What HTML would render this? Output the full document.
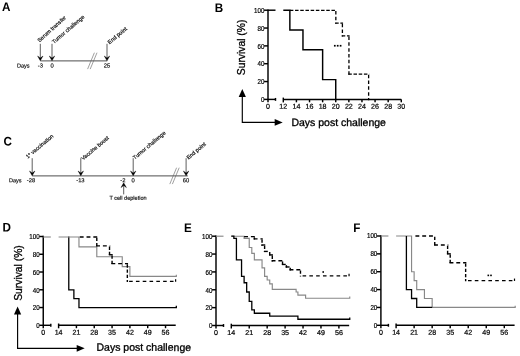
<!DOCTYPE html>
<html><head><meta charset="utf-8"><title>Figure</title>
<style>
html,body{margin:0;padding:0;background:#fff;}
body{width:520px;height:356px;overflow:hidden;font-family:"Liberation Sans",sans-serif;}
svg{display:block;font-family:"Liberation Sans",sans-serif;filter:grayscale(1);}
</style></head><body>
<svg width="520" height="356" viewBox="0 0 520 356">
<rect width="520" height="356" fill="#fff"/>
<text transform="translate(2 10.95) rotate(0.06) scale(1 1.06)" font-size="11.7" font-weight="bold">A</text>
<line x1="40.3" y1="60.9" x2="107.2" y2="60.9" stroke="#444" stroke-width="0.95"/>
<line x1="40.3" y1="43.8" x2="40.3" y2="58.8" stroke="#555" stroke-width="0.95"/>
<path d="M37.6 56 L40.3 60.8 L43 56 L40.3 58.1 Z" fill="#000" stroke="#000" stroke-width="0.4" stroke-linejoin="miter"/>
<text x="39.4" y="42.6" font-size="5.5" text-anchor="start" font-weight="normal" fill="#111" transform="rotate(-42 39.4 42.6)" stroke="#111" stroke-width="0.2">Serum transfer</text>
<line x1="52" y1="43.8" x2="52" y2="58.8" stroke="#555" stroke-width="0.95"/>
<path d="M49.3 56 L52 60.8 L54.7 56 L52 58.1 Z" fill="#000" stroke="#000" stroke-width="0.4" stroke-linejoin="miter"/>
<text x="53.9" y="44" font-size="5.5" text-anchor="start" font-weight="normal" fill="#111" transform="rotate(-40.5 53.9 44)" stroke="#111" stroke-width="0.2">Tumor challenge</text>
<line x1="107" y1="43.8" x2="107" y2="58.8" stroke="#555" stroke-width="0.95"/>
<path d="M104.3 56 L107 60.8 L109.7 56 L107 58.1 Z" fill="#000" stroke="#000" stroke-width="0.4" stroke-linejoin="miter"/>
<text x="109.6" y="44.4" font-size="5.5" text-anchor="start" font-weight="normal" fill="#111" transform="rotate(-40 109.6 44.4)" stroke="#111" stroke-width="0.2">End point</text>
<line x1="87.6" y1="69.1" x2="94.4" y2="52.7" stroke="#606060" stroke-width="0.6"/>
<line x1="90.2" y1="69.1" x2="97" y2="52.7" stroke="#606060" stroke-width="0.6"/>
<text x="17" y="67.4" font-size="5.55" text-anchor="start" font-weight="normal" fill="#111" transform="rotate(0.06 17 67.4)" stroke="#111" stroke-width="0.17">Days</text>
<text x="40.3" y="67.4" font-size="5.8" text-anchor="middle" font-weight="normal" fill="#111" transform="rotate(0.06 40.3 67.4)" stroke="#111" stroke-width="0.17">-3</text>
<text x="52" y="67.4" font-size="5.8" text-anchor="middle" font-weight="normal" fill="#111" transform="rotate(0.06 52 67.4)" stroke="#111" stroke-width="0.17">0</text>
<text x="107" y="67.4" font-size="5.8" text-anchor="middle" font-weight="normal" fill="#111" transform="rotate(0.06 107 67.4)" stroke="#111" stroke-width="0.17">25</text>
<text transform="translate(3.5 145.6) rotate(0.06) scale(1 1.06)" font-size="11.7" font-weight="bold">C</text>
<line x1="32.2" y1="175.9" x2="187.8" y2="175.9" stroke="#444" stroke-width="0.95"/>
<line x1="32.2" y1="158.2" x2="32.2" y2="173.8" stroke="#555" stroke-width="0.95"/>
<path d="M29.5 171 L32.2 175.8 L34.9 171 L32.2 173.1 Z" fill="#000" stroke="#000" stroke-width="0.4" stroke-linejoin="miter"/>
<text x="27.8" y="158.7" font-size="5.5" text-anchor="start" font-weight="normal" fill="#111" transform="rotate(-40 27.8 158.7)" stroke="#111" stroke-width="0.2">1<tspan font-size="3.4" dy="-2">o</tspan><tspan dy="2"> vaccination</tspan></text>
<line x1="80.8" y1="158.2" x2="80.8" y2="173.8" stroke="#555" stroke-width="0.95"/>
<path d="M78.1 171 L80.8 175.8 L83.5 171 L80.8 173.1 Z" fill="#000" stroke="#000" stroke-width="0.4" stroke-linejoin="miter"/>
<text x="83.1" y="160.5" font-size="5.5" text-anchor="start" font-weight="normal" fill="#111" transform="rotate(-40 83.1 160.5)" stroke="#111" stroke-width="0.2">Vaccine boost</text>
<line x1="133.2" y1="158.2" x2="133.2" y2="173.8" stroke="#555" stroke-width="0.95"/>
<path d="M130.5 171 L133.2 175.8 L135.9 171 L133.2 173.1 Z" fill="#000" stroke="#000" stroke-width="0.4" stroke-linejoin="miter"/>
<text x="134.8" y="159.7" font-size="5.5" text-anchor="start" font-weight="normal" fill="#111" transform="rotate(-40 134.8 159.7)" stroke="#111" stroke-width="0.2">Tumor challenge</text>
<line x1="186.1" y1="158.2" x2="186.1" y2="173.8" stroke="#555" stroke-width="0.95"/>
<path d="M183.4 171 L186.1 175.8 L188.8 171 L186.1 173.1 Z" fill="#000" stroke="#000" stroke-width="0.4" stroke-linejoin="miter"/>
<text x="188.4" y="159.8" font-size="5.5" text-anchor="start" font-weight="normal" fill="#111" transform="rotate(-40 188.4 159.8)" stroke="#111" stroke-width="0.2">End point</text>
<line x1="169.8" y1="184.1" x2="176.6" y2="167.7" stroke="#606060" stroke-width="0.6"/>
<line x1="172.4" y1="184.1" x2="179.2" y2="167.7" stroke="#606060" stroke-width="0.6"/>
<line x1="123.7" y1="194.4" x2="123.7" y2="184.8" stroke="#555" stroke-width="0.95"/>
<path d="M121 187.6 L123.7 182.8 L126.4 187.6 L123.7 185.5 Z" fill="#000" stroke="#000" stroke-width="0.4" stroke-linejoin="miter"/>
<text x="8.9" y="182.3" font-size="5.55" text-anchor="start" font-weight="normal" fill="#111" transform="rotate(0.06 8.9 182.3)" stroke="#111" stroke-width="0.17">Days</text>
<text x="31" y="182.3" font-size="5.8" text-anchor="middle" font-weight="normal" fill="#111" transform="rotate(0.06 31 182.3)" stroke="#111" stroke-width="0.17">-28</text>
<text x="80.4" y="182.3" font-size="5.8" text-anchor="middle" font-weight="normal" fill="#111" transform="rotate(0.06 80.4 182.3)" stroke="#111" stroke-width="0.17">-13</text>
<text x="122.8" y="182.3" font-size="5.8" text-anchor="middle" font-weight="normal" fill="#111" transform="rotate(0.06 122.8 182.3)" stroke="#111" stroke-width="0.17">-2</text>
<text x="133.2" y="182.3" font-size="5.8" text-anchor="middle" font-weight="normal" fill="#111" transform="rotate(0.06 133.2 182.3)" stroke="#111" stroke-width="0.17">0</text>
<text x="186" y="182.3" font-size="5.8" text-anchor="middle" font-weight="normal" fill="#111" transform="rotate(0.06 186 182.3)" stroke="#111" stroke-width="0.17">60</text>
<text x="128" y="199.7" font-size="5.55" text-anchor="middle" font-weight="normal" fill="#111" transform="rotate(0.06 128 199.7)" stroke="#111" stroke-width="0.17">T cell depletion</text>
<text transform="translate(214.8 12) rotate(0.06) scale(1 1.06)" font-size="11.7" font-weight="bold">B</text>
<line x1="268" y1="9.47" x2="268" y2="102.3" stroke="#000" stroke-width="1.45"/>
<line x1="264.1" y1="99.4" x2="268" y2="99.4" stroke="#000" stroke-width="1.45"/>
<text transform="translate(264.4 102.15) scale(0.87 1)" font-size="7.1" text-anchor="end" stroke="#000" stroke-width="0.2">0</text>
<line x1="264.1" y1="81.56" x2="268" y2="81.56" stroke="#000" stroke-width="1.45"/>
<text transform="translate(264.4 84.31) scale(0.87 1)" font-size="7.1" text-anchor="end" stroke="#000" stroke-width="0.2">20</text>
<line x1="264.1" y1="63.72" x2="268" y2="63.72" stroke="#000" stroke-width="1.45"/>
<text transform="translate(264.4 66.47) scale(0.87 1)" font-size="7.1" text-anchor="end" stroke="#000" stroke-width="0.2">40</text>
<line x1="264.1" y1="45.88" x2="268" y2="45.88" stroke="#000" stroke-width="1.45"/>
<text transform="translate(264.4 48.63) scale(0.87 1)" font-size="7.1" text-anchor="end" stroke="#000" stroke-width="0.2">60</text>
<line x1="264.1" y1="28.04" x2="268" y2="28.04" stroke="#000" stroke-width="1.45"/>
<text transform="translate(264.4 30.79) scale(0.87 1)" font-size="7.1" text-anchor="end" stroke="#000" stroke-width="0.2">80</text>
<line x1="264.1" y1="10.2" x2="268" y2="10.2" stroke="#000" stroke-width="1.45"/>
<text transform="translate(264.4 12.95) scale(0.87 1)" font-size="7.1" text-anchor="end" stroke="#000" stroke-width="0.2">100</text>
<line x1="268" y1="99.4" x2="275.5" y2="99.4" stroke="#000" stroke-width="1.45"/>
<line x1="275.5" y1="97.95" x2="275.5" y2="100.85" stroke="#000" stroke-width="1.45"/>
<line x1="283.3" y1="99.4" x2="401.29" y2="99.4" stroke="#000" stroke-width="1.45"/>
<line x1="283.3" y1="97.6" x2="283.3" y2="102.4" stroke="#000" stroke-width="1.45"/>
<text x="268" y="108.8" font-size="7.1" text-anchor="middle" font-weight="normal" fill="#000" transform="rotate(0.06 268 108.8)" stroke="#000" stroke-width="0.21">0</text>
<text x="283.3" y="108.8" font-size="7.1" text-anchor="middle" font-weight="normal" fill="#000" transform="rotate(0.06 283.3 108.8)" stroke="#000" stroke-width="0.21">12</text>
<line x1="296.41" y1="99.4" x2="296.41" y2="102.3" stroke="#000" stroke-width="1.45"/>
<text x="296.41" y="108.8" font-size="7.1" text-anchor="middle" font-weight="normal" fill="#000" transform="rotate(0.06 296.41 108.8)" stroke="#000" stroke-width="0.21">14</text>
<line x1="309.52" y1="99.4" x2="309.52" y2="102.3" stroke="#000" stroke-width="1.45"/>
<text x="309.52" y="108.8" font-size="7.1" text-anchor="middle" font-weight="normal" fill="#000" transform="rotate(0.06 309.52 108.8)" stroke="#000" stroke-width="0.21">16</text>
<line x1="322.63" y1="99.4" x2="322.63" y2="102.3" stroke="#000" stroke-width="1.45"/>
<text x="322.63" y="108.8" font-size="7.1" text-anchor="middle" font-weight="normal" fill="#000" transform="rotate(0.06 322.63 108.8)" stroke="#000" stroke-width="0.21">18</text>
<line x1="335.74" y1="99.4" x2="335.74" y2="102.3" stroke="#000" stroke-width="1.45"/>
<text x="335.74" y="108.8" font-size="7.1" text-anchor="middle" font-weight="normal" fill="#000" transform="rotate(0.06 335.74 108.8)" stroke="#000" stroke-width="0.21">20</text>
<line x1="348.85" y1="99.4" x2="348.85" y2="102.3" stroke="#000" stroke-width="1.45"/>
<text x="348.85" y="108.8" font-size="7.1" text-anchor="middle" font-weight="normal" fill="#000" transform="rotate(0.06 348.85 108.8)" stroke="#000" stroke-width="0.21">22</text>
<line x1="361.96" y1="99.4" x2="361.96" y2="102.3" stroke="#000" stroke-width="1.45"/>
<text x="361.96" y="108.8" font-size="7.1" text-anchor="middle" font-weight="normal" fill="#000" transform="rotate(0.06 361.96 108.8)" stroke="#000" stroke-width="0.21">24</text>
<line x1="375.07" y1="99.4" x2="375.07" y2="102.3" stroke="#000" stroke-width="1.45"/>
<text x="375.07" y="108.8" font-size="7.1" text-anchor="middle" font-weight="normal" fill="#000" transform="rotate(0.06 375.07 108.8)" stroke="#000" stroke-width="0.21">26</text>
<line x1="388.18" y1="99.4" x2="388.18" y2="102.3" stroke="#000" stroke-width="1.45"/>
<text x="388.18" y="108.8" font-size="7.1" text-anchor="middle" font-weight="normal" fill="#000" transform="rotate(0.06 388.18 108.8)" stroke="#000" stroke-width="0.21">28</text>
<line x1="401.29" y1="99.4" x2="401.29" y2="102.3" stroke="#000" stroke-width="1.45"/>
<text x="401.29" y="108.8" font-size="7.1" text-anchor="middle" font-weight="normal" fill="#000" transform="rotate(0.06 401.29 108.8)" stroke="#000" stroke-width="0.21">30</text>
<line x1="289.86" y1="10.4" x2="336.49" y2="10.4" stroke="#000" stroke-width="1.3" stroke-dasharray="3.5 1.7"/>
<line x1="335.84" y1="11.05" x2="335.84" y2="23.81" stroke="#000" stroke-width="1.3" stroke-dasharray="3.5 2.3"/>
<line x1="335.19" y1="23.16" x2="343.05" y2="23.16" stroke="#000" stroke-width="1.3" stroke-dasharray="3.5 1.7"/>
<line x1="342.4" y1="23.81" x2="342.4" y2="36.56" stroke="#000" stroke-width="1.3" stroke-dasharray="3.5 2.3"/>
<line x1="341.75" y1="35.91" x2="349.6" y2="35.91" stroke="#000" stroke-width="1.3" stroke-dasharray="3.5 1.7"/>
<line x1="348.95" y1="36.56" x2="348.95" y2="74.74" stroke="#000" stroke-width="1.3" stroke-dasharray="3.5 2.3"/>
<line x1="348.3" y1="74.09" x2="369.26" y2="74.09" stroke="#000" stroke-width="1.3" stroke-dasharray="3.5 1.7"/>
<line x1="368.62" y1="74.74" x2="368.62" y2="100.25" stroke="#000" stroke-width="1.3" stroke-dasharray="3.5 2.3"/>
<line x1="268" y1="10.2" x2="275.5" y2="10.2" stroke="#000" stroke-width="1.45"/>
<path d="M283.3 10.2 H289.86 V30 H302.97 V49.8 H322.63 V79.6 H335.74 V99.4" fill="none" stroke="#000" stroke-width="1.45" stroke-linejoin="miter" stroke-linecap="butt"/>
<text x="245" y="47.4" font-size="10.3" text-anchor="middle" font-weight="normal" fill="#000" transform="rotate(-90 245 47.4)" stroke="#000" stroke-width="0.31">Survival (%)</text>
<path d="M242.3 94.1 V122.4 H277.7" fill="none" stroke="#000" stroke-width="1.15"/>
<path d="M242.3 89.1 L238.7 97 L245.9 97 Z" fill="#000"/>
<path d="M282.7 122.4 L274.7 119.05 L274.7 125.75 Z" fill="#000"/>
<text x="291.4" y="126" font-size="10.5" text-anchor="start" font-weight="normal" fill="#000" transform="rotate(0.06 291.4 126)" stroke="#000" stroke-width="0.32">Days post challenge</text>
<rect x="333.95" y="44.9" width="1.7" height="1.7" fill="#000"/>
<rect x="336.85" y="44.9" width="1.7" height="1.7" fill="#000"/>
<rect x="339.75" y="44.9" width="1.7" height="1.7" fill="#000"/>
<text transform="translate(2.5 231.6) rotate(0.06) scale(1 1.06)" font-size="11.7" font-weight="bold">D</text>
<line x1="43.25" y1="235.78" x2="43.25" y2="328.2" stroke="#000" stroke-width="1.45"/>
<line x1="39.35" y1="325.3" x2="43.25" y2="325.3" stroke="#000" stroke-width="1.45"/>
<text transform="translate(39.65 328.05) scale(0.87 1)" font-size="7.1" text-anchor="end" stroke="#000" stroke-width="0.2">0</text>
<line x1="39.35" y1="307.54" x2="43.25" y2="307.54" stroke="#000" stroke-width="1.45"/>
<text transform="translate(39.65 310.29) scale(0.87 1)" font-size="7.1" text-anchor="end" stroke="#000" stroke-width="0.2">20</text>
<line x1="39.35" y1="289.78" x2="43.25" y2="289.78" stroke="#000" stroke-width="1.45"/>
<text transform="translate(39.65 292.53) scale(0.87 1)" font-size="7.1" text-anchor="end" stroke="#000" stroke-width="0.2">40</text>
<line x1="39.35" y1="272.02" x2="43.25" y2="272.02" stroke="#000" stroke-width="1.45"/>
<text transform="translate(39.65 274.77) scale(0.87 1)" font-size="7.1" text-anchor="end" stroke="#000" stroke-width="0.2">60</text>
<line x1="39.35" y1="254.26" x2="43.25" y2="254.26" stroke="#000" stroke-width="1.45"/>
<text transform="translate(39.65 257.01) scale(0.87 1)" font-size="7.1" text-anchor="end" stroke="#000" stroke-width="0.2">80</text>
<line x1="39.35" y1="236.5" x2="43.25" y2="236.5" stroke="#000" stroke-width="1.45"/>
<text transform="translate(39.65 239.25) scale(0.87 1)" font-size="7.1" text-anchor="end" stroke="#000" stroke-width="0.2">100</text>
<line x1="43.25" y1="325.3" x2="50.8" y2="325.3" stroke="#000" stroke-width="1.45"/>
<line x1="50.8" y1="323.85" x2="50.8" y2="326.75" stroke="#000" stroke-width="1.45"/>
<line x1="58.6" y1="325.3" x2="175.72" y2="325.3" stroke="#000" stroke-width="1.45"/>
<line x1="58.6" y1="323.5" x2="58.6" y2="328.3" stroke="#000" stroke-width="1.45"/>
<text x="43.25" y="334.7" font-size="7.1" text-anchor="middle" font-weight="normal" fill="#000" transform="rotate(0.06 43.25 334.7)" stroke="#000" stroke-width="0.21">0</text>
<text x="58.6" y="334.7" font-size="7.1" text-anchor="middle" font-weight="normal" fill="#000" transform="rotate(0.06 58.6 334.7)" stroke="#000" stroke-width="0.21">14</text>
<line x1="76.42" y1="325.3" x2="76.42" y2="328.2" stroke="#000" stroke-width="1.45"/>
<text x="76.42" y="334.7" font-size="7.1" text-anchor="middle" font-weight="normal" fill="#000" transform="rotate(0.06 76.42 334.7)" stroke="#000" stroke-width="0.21">21</text>
<line x1="94.24" y1="325.3" x2="94.24" y2="328.2" stroke="#000" stroke-width="1.45"/>
<text x="94.24" y="334.7" font-size="7.1" text-anchor="middle" font-weight="normal" fill="#000" transform="rotate(0.06 94.24 334.7)" stroke="#000" stroke-width="0.21">28</text>
<line x1="112.07" y1="325.3" x2="112.07" y2="328.2" stroke="#000" stroke-width="1.45"/>
<text x="112.07" y="334.7" font-size="7.1" text-anchor="middle" font-weight="normal" fill="#000" transform="rotate(0.06 112.07 334.7)" stroke="#000" stroke-width="0.21">35</text>
<line x1="129.89" y1="325.3" x2="129.89" y2="328.2" stroke="#000" stroke-width="1.45"/>
<text x="129.89" y="334.7" font-size="7.1" text-anchor="middle" font-weight="normal" fill="#000" transform="rotate(0.06 129.89 334.7)" stroke="#000" stroke-width="0.21">42</text>
<line x1="147.71" y1="325.3" x2="147.71" y2="328.2" stroke="#000" stroke-width="1.45"/>
<text x="147.71" y="334.7" font-size="7.1" text-anchor="middle" font-weight="normal" fill="#000" transform="rotate(0.06 147.71 334.7)" stroke="#000" stroke-width="0.21">49</text>
<line x1="165.53" y1="325.3" x2="165.53" y2="328.2" stroke="#000" stroke-width="1.45"/>
<text x="165.53" y="334.7" font-size="7.1" text-anchor="middle" font-weight="normal" fill="#000" transform="rotate(0.06 165.53 334.7)" stroke="#000" stroke-width="0.21">56</text>
<path d="M68.78 236.5 H68.78 V289.78 H73.88 V298.66 H78.97 V307.54 H176.32 V305.74" fill="none" stroke="#000" stroke-width="1.3" stroke-linejoin="miter" stroke-linecap="butt"/>
<line x1="43.25" y1="237" x2="50.8" y2="237" stroke="#888" stroke-width="1.15"/>
<path d="M58.6 237 H78.97 V246.86 H96.79 V256.71 H122.25 V266.57 H129.89 V276.43 H176.32 V274.63" fill="none" stroke="#888" stroke-width="1.15" stroke-linejoin="miter" stroke-linecap="butt"/>
<line x1="79.73" y1="237" x2="97.49" y2="237" stroke="#000" stroke-width="1.4" stroke-dasharray="3.9 2.9"/>
<line x1="96.79" y1="237.7" x2="96.79" y2="246.58" stroke="#000" stroke-width="1.4" stroke-dasharray="3.3 1.9"/>
<line x1="96.09" y1="245.88" x2="110.22" y2="245.88" stroke="#000" stroke-width="1.4" stroke-dasharray="3.9 2.9"/>
<line x1="109.52" y1="246.58" x2="109.52" y2="255.46" stroke="#000" stroke-width="1.4" stroke-dasharray="3.3 1.9"/>
<line x1="108.82" y1="254.76" x2="112.77" y2="254.76" stroke="#000" stroke-width="1.4" stroke-dasharray="3.9 2.9"/>
<line x1="112.07" y1="255.46" x2="112.07" y2="264.34" stroke="#000" stroke-width="1.4" stroke-dasharray="3.3 1.9"/>
<line x1="111.37" y1="263.64" x2="128.04" y2="263.64" stroke="#000" stroke-width="1.4" stroke-dasharray="3.9 2.9"/>
<line x1="127.34" y1="264.34" x2="127.34" y2="282.1" stroke="#000" stroke-width="1.4" stroke-dasharray="3.3 1.9"/>
<line x1="173.52" y1="281.4" x2="126.64" y2="281.4" stroke="#000" stroke-width="1.4" stroke-dasharray="3.6 3.2"/>
<line x1="175.62" y1="281.7" x2="175.62" y2="279.3" stroke="#000" stroke-width="1.2"/>
<text x="21.5" y="273" font-size="10.3" text-anchor="middle" font-weight="normal" fill="#000" transform="rotate(-90 21.5 273)" stroke="#000" stroke-width="0.31">Survival (%)</text>
<path d="M17.6 311.5 V348.3 H79.7" fill="none" stroke="#000" stroke-width="1.15"/>
<path d="M17.6 306.5 L14 314.4 L21.2 314.4 Z" fill="#000"/>
<path d="M84.7 348.3 L76.7 344.95 L76.7 351.65 Z" fill="#000"/>
<text x="96.5" y="350.8" font-size="10.5" text-anchor="start" font-weight="normal" fill="#000" transform="rotate(0.06 96.5 350.8)" stroke="#000" stroke-width="0.32">Days post challenge</text>
<text transform="translate(184.1 231.9) rotate(0.06) scale(1 1.06)" font-size="11.7" font-weight="bold">E</text>
<line x1="216" y1="235.47" x2="216" y2="328.4" stroke="#000" stroke-width="1.45"/>
<line x1="212.1" y1="325.5" x2="216" y2="325.5" stroke="#000" stroke-width="1.45"/>
<text transform="translate(212.4 328.25) scale(0.87 1)" font-size="7.1" text-anchor="end" stroke="#000" stroke-width="0.2">0</text>
<line x1="212.1" y1="307.64" x2="216" y2="307.64" stroke="#000" stroke-width="1.45"/>
<text transform="translate(212.4 310.39) scale(0.87 1)" font-size="7.1" text-anchor="end" stroke="#000" stroke-width="0.2">20</text>
<line x1="212.1" y1="289.78" x2="216" y2="289.78" stroke="#000" stroke-width="1.45"/>
<text transform="translate(212.4 292.53) scale(0.87 1)" font-size="7.1" text-anchor="end" stroke="#000" stroke-width="0.2">40</text>
<line x1="212.1" y1="271.92" x2="216" y2="271.92" stroke="#000" stroke-width="1.45"/>
<text transform="translate(212.4 274.67) scale(0.87 1)" font-size="7.1" text-anchor="end" stroke="#000" stroke-width="0.2">60</text>
<line x1="212.1" y1="254.06" x2="216" y2="254.06" stroke="#000" stroke-width="1.45"/>
<text transform="translate(212.4 256.81) scale(0.87 1)" font-size="7.1" text-anchor="end" stroke="#000" stroke-width="0.2">80</text>
<line x1="212.1" y1="236.2" x2="216" y2="236.2" stroke="#000" stroke-width="1.45"/>
<text transform="translate(212.4 238.95) scale(0.87 1)" font-size="7.1" text-anchor="end" stroke="#000" stroke-width="0.2">100</text>
<line x1="216" y1="325.5" x2="223.5" y2="325.5" stroke="#000" stroke-width="1.45"/>
<line x1="223.5" y1="324.05" x2="223.5" y2="326.95" stroke="#000" stroke-width="1.45"/>
<line x1="231.3" y1="325.5" x2="349.15" y2="325.5" stroke="#000" stroke-width="1.45"/>
<line x1="231.3" y1="323.7" x2="231.3" y2="328.5" stroke="#000" stroke-width="1.45"/>
<text x="216" y="334.9" font-size="7.1" text-anchor="middle" font-weight="normal" fill="#000" transform="rotate(0.06 216 334.9)" stroke="#000" stroke-width="0.21">0</text>
<text x="231.3" y="334.9" font-size="7.1" text-anchor="middle" font-weight="normal" fill="#000" transform="rotate(0.06 231.3 334.9)" stroke="#000" stroke-width="0.21">14</text>
<line x1="249.23" y1="325.5" x2="249.23" y2="328.4" stroke="#000" stroke-width="1.45"/>
<text x="249.23" y="334.9" font-size="7.1" text-anchor="middle" font-weight="normal" fill="#000" transform="rotate(0.06 249.23 334.9)" stroke="#000" stroke-width="0.21">21</text>
<line x1="267.17" y1="325.5" x2="267.17" y2="328.4" stroke="#000" stroke-width="1.45"/>
<text x="267.17" y="334.9" font-size="7.1" text-anchor="middle" font-weight="normal" fill="#000" transform="rotate(0.06 267.17 334.9)" stroke="#000" stroke-width="0.21">28</text>
<line x1="285.1" y1="325.5" x2="285.1" y2="328.4" stroke="#000" stroke-width="1.45"/>
<text x="285.1" y="334.9" font-size="7.1" text-anchor="middle" font-weight="normal" fill="#000" transform="rotate(0.06 285.1 334.9)" stroke="#000" stroke-width="0.21">35</text>
<line x1="303.04" y1="325.5" x2="303.04" y2="328.4" stroke="#000" stroke-width="1.45"/>
<text x="303.04" y="334.9" font-size="7.1" text-anchor="middle" font-weight="normal" fill="#000" transform="rotate(0.06 303.04 334.9)" stroke="#000" stroke-width="0.21">42</text>
<line x1="320.97" y1="325.5" x2="320.97" y2="328.4" stroke="#000" stroke-width="1.45"/>
<text x="320.97" y="334.9" font-size="7.1" text-anchor="middle" font-weight="normal" fill="#000" transform="rotate(0.06 320.97 334.9)" stroke="#000" stroke-width="0.21">49</text>
<line x1="338.9" y1="325.5" x2="338.9" y2="328.4" stroke="#000" stroke-width="1.45"/>
<text x="338.9" y="334.9" font-size="7.1" text-anchor="middle" font-weight="normal" fill="#000" transform="rotate(0.06 338.9 334.9)" stroke="#000" stroke-width="0.21">56</text>
<line x1="216" y1="236.2" x2="223.5" y2="236.2" stroke="#888" stroke-width="1.15"/>
<path d="M231.3 236.2 H244.11 V238.43 H249.23 V247.54 H251.8 V253.35 H254.36 V259.86 H262.04 V267.81 H264.61 V276.38 H267.17 V279.96 H269.73 V283.89 H272.29 V289.42 H296.12 V292.01 H297.91 V295.14 H305.6 V298.26 H349.75 V296.46" fill="none" stroke="#888" stroke-width="1.15" stroke-linejoin="miter" stroke-linecap="butt"/>
<path d="M231.3 236.2 H233.86 V238.43 H236.42 V259.86 H241.55 V276.38 H244.11 V282.73 H246.67 V292.01 H249.23 V301.39 H251.8 V309.96 H254.36 V313.27 H269.73 V316.12 H297.91 V319.25 H349.75 V317.45" fill="none" stroke="#000" stroke-width="1.3" stroke-linejoin="miter" stroke-linecap="butt"/>
<line x1="244.11" y1="236.6" x2="255.06" y2="236.6" stroke="#000" stroke-width="1.4" stroke-dasharray="3.9 2.9"/>
<line x1="254.36" y1="237.3" x2="254.36" y2="239.53" stroke="#000" stroke-width="1.4" stroke-dasharray="3.3 1.9"/>
<line x1="253.66" y1="238.83" x2="262.74" y2="238.83" stroke="#000" stroke-width="1.4" stroke-dasharray="3.9 2.9"/>
<line x1="262.04" y1="239.53" x2="262.04" y2="245.69" stroke="#000" stroke-width="1.4" stroke-dasharray="3.3 1.9"/>
<line x1="261.34" y1="244.99" x2="265.31" y2="244.99" stroke="#000" stroke-width="1.4" stroke-dasharray="3.9 2.9"/>
<line x1="264.61" y1="245.69" x2="264.61" y2="252.12" stroke="#000" stroke-width="1.4" stroke-dasharray="3.3 1.9"/>
<line x1="263.91" y1="251.42" x2="270.43" y2="251.42" stroke="#000" stroke-width="1.4" stroke-dasharray="3.9 2.9"/>
<line x1="269.73" y1="252.12" x2="269.73" y2="255.61" stroke="#000" stroke-width="1.4" stroke-dasharray="3.3 1.9"/>
<line x1="269.03" y1="254.91" x2="272.99" y2="254.91" stroke="#000" stroke-width="1.4" stroke-dasharray="3.9 2.9"/>
<line x1="272.29" y1="255.61" x2="272.29" y2="261.41" stroke="#000" stroke-width="1.4" stroke-dasharray="3.3 1.9"/>
<line x1="271.59" y1="260.71" x2="283.24" y2="260.71" stroke="#000" stroke-width="1.4" stroke-dasharray="3.9 2.9"/>
<line x1="282.54" y1="261.41" x2="282.54" y2="265.16" stroke="#000" stroke-width="1.4" stroke-dasharray="3.3 1.9"/>
<line x1="281.84" y1="264.46" x2="287.08" y2="264.46" stroke="#000" stroke-width="1.4" stroke-dasharray="3.9 2.9"/>
<line x1="286.38" y1="265.16" x2="286.38" y2="267.66" stroke="#000" stroke-width="1.4" stroke-dasharray="3.3 1.9"/>
<line x1="285.68" y1="266.96" x2="290.93" y2="266.96" stroke="#000" stroke-width="1.4" stroke-dasharray="3.9 2.9"/>
<line x1="290.23" y1="267.66" x2="290.23" y2="270.52" stroke="#000" stroke-width="1.4" stroke-dasharray="3.3 1.9"/>
<line x1="289.53" y1="269.82" x2="301.17" y2="269.82" stroke="#000" stroke-width="1.4" stroke-dasharray="3.9 2.9"/>
<line x1="300.47" y1="270.52" x2="300.47" y2="276.59" stroke="#000" stroke-width="1.4" stroke-dasharray="3.3 1.9"/>
<line x1="346.95" y1="275.89" x2="299.77" y2="275.89" stroke="#000" stroke-width="1.4" stroke-dasharray="3.6 3.2"/>
<line x1="349.05" y1="276.19" x2="349.05" y2="273.79" stroke="#000" stroke-width="1.2"/>
<rect x="322.4" y="271.2" width="1.6" height="1.6" fill="#000"/>
<text transform="translate(353.3 232) rotate(0.06) scale(1 1.06)" font-size="11.7" font-weight="bold">F</text>
<line x1="380.9" y1="235.28" x2="380.9" y2="328.2" stroke="#000" stroke-width="1.45"/>
<line x1="377" y1="325.3" x2="380.9" y2="325.3" stroke="#000" stroke-width="1.45"/>
<text transform="translate(377.3 327.55) scale(0.87 1)" font-size="7.1" text-anchor="end" stroke="#000" stroke-width="0.2">0</text>
<line x1="377" y1="307.44" x2="380.9" y2="307.44" stroke="#000" stroke-width="1.45"/>
<text transform="translate(377.3 309.69) scale(0.87 1)" font-size="7.1" text-anchor="end" stroke="#000" stroke-width="0.2">20</text>
<line x1="377" y1="289.58" x2="380.9" y2="289.58" stroke="#000" stroke-width="1.45"/>
<text transform="translate(377.3 291.83) scale(0.87 1)" font-size="7.1" text-anchor="end" stroke="#000" stroke-width="0.2">40</text>
<line x1="377" y1="271.72" x2="380.9" y2="271.72" stroke="#000" stroke-width="1.45"/>
<text transform="translate(377.3 273.97) scale(0.87 1)" font-size="7.1" text-anchor="end" stroke="#000" stroke-width="0.2">60</text>
<line x1="377" y1="253.86" x2="380.9" y2="253.86" stroke="#000" stroke-width="1.45"/>
<text transform="translate(377.3 256.11) scale(0.87 1)" font-size="7.1" text-anchor="end" stroke="#000" stroke-width="0.2">80</text>
<line x1="377" y1="236" x2="380.9" y2="236" stroke="#000" stroke-width="1.45"/>
<text transform="translate(377.3 238.25) scale(0.87 1)" font-size="7.1" text-anchor="end" stroke="#000" stroke-width="0.2">100</text>
<line x1="380.9" y1="325.3" x2="388.4" y2="325.3" stroke="#000" stroke-width="1.45"/>
<line x1="388.4" y1="323.85" x2="388.4" y2="326.75" stroke="#000" stroke-width="1.45"/>
<line x1="396.1" y1="325.3" x2="514.6" y2="325.3" stroke="#000" stroke-width="1.45"/>
<line x1="396.1" y1="323.5" x2="396.1" y2="328.3" stroke="#000" stroke-width="1.45"/>
<text x="380.9" y="334.7" font-size="7.1" text-anchor="middle" font-weight="normal" fill="#000" transform="rotate(0.06 380.9 334.7)" stroke="#000" stroke-width="0.21">0</text>
<text x="396.1" y="334.7" font-size="7.1" text-anchor="middle" font-weight="normal" fill="#000" transform="rotate(0.06 396.1 334.7)" stroke="#000" stroke-width="0.21">14</text>
<line x1="414.13" y1="325.3" x2="414.13" y2="328.2" stroke="#000" stroke-width="1.45"/>
<text x="414.13" y="334.7" font-size="7.1" text-anchor="middle" font-weight="normal" fill="#000" transform="rotate(0.06 414.13 334.7)" stroke="#000" stroke-width="0.21">21</text>
<line x1="432.16" y1="325.3" x2="432.16" y2="328.2" stroke="#000" stroke-width="1.45"/>
<text x="432.16" y="334.7" font-size="7.1" text-anchor="middle" font-weight="normal" fill="#000" transform="rotate(0.06 432.16 334.7)" stroke="#000" stroke-width="0.21">28</text>
<line x1="450.2" y1="325.3" x2="450.2" y2="328.2" stroke="#000" stroke-width="1.45"/>
<text x="450.2" y="334.7" font-size="7.1" text-anchor="middle" font-weight="normal" fill="#000" transform="rotate(0.06 450.2 334.7)" stroke="#000" stroke-width="0.21">35</text>
<line x1="468.23" y1="325.3" x2="468.23" y2="328.2" stroke="#000" stroke-width="1.45"/>
<text x="468.23" y="334.7" font-size="7.1" text-anchor="middle" font-weight="normal" fill="#000" transform="rotate(0.06 468.23 334.7)" stroke="#000" stroke-width="0.21">42</text>
<line x1="486.26" y1="325.3" x2="486.26" y2="328.2" stroke="#000" stroke-width="1.45"/>
<text x="486.26" y="334.7" font-size="7.1" text-anchor="middle" font-weight="normal" fill="#000" transform="rotate(0.06 486.26 334.7)" stroke="#000" stroke-width="0.21">49</text>
<line x1="504.29" y1="325.3" x2="504.29" y2="328.2" stroke="#000" stroke-width="1.45"/>
<text x="504.29" y="334.7" font-size="7.1" text-anchor="middle" font-weight="normal" fill="#000" transform="rotate(0.06 504.29 334.7)" stroke="#000" stroke-width="0.21">56</text>
<line x1="380.9" y1="236" x2="388.4" y2="236" stroke="#888" stroke-width="1.15"/>
<path d="M396.1 236 H411.56 V271.72 H414.13 V280.65 H416.71 V289.58 H424.44 V298.51 H432.16 V307.44 H515.2 V305.64" fill="none" stroke="#888" stroke-width="1.15" stroke-linejoin="miter" stroke-linecap="butt"/>
<path d="M406.4 236 H406.4 V289.58 H411.56 V298.51 H416.71 V307.44 H432.16" fill="none" stroke="#000" stroke-width="1.3" stroke-linejoin="miter" stroke-linecap="butt"/>
<line x1="415.42" y1="236" x2="435.44" y2="236" stroke="#000" stroke-width="1.4" stroke-dasharray="3.9 2.9"/>
<line x1="434.74" y1="236.7" x2="434.74" y2="245.63" stroke="#000" stroke-width="1.4" stroke-dasharray="3.3 1.9"/>
<line x1="434.04" y1="244.93" x2="448.32" y2="244.93" stroke="#000" stroke-width="1.4" stroke-dasharray="3.9 2.9"/>
<line x1="447.62" y1="245.63" x2="447.62" y2="254.56" stroke="#000" stroke-width="1.4" stroke-dasharray="3.3 1.9"/>
<line x1="446.92" y1="253.86" x2="450.9" y2="253.86" stroke="#000" stroke-width="1.4" stroke-dasharray="3.9 2.9"/>
<line x1="450.2" y1="254.56" x2="450.2" y2="263.49" stroke="#000" stroke-width="1.4" stroke-dasharray="3.3 1.9"/>
<line x1="449.5" y1="262.79" x2="466.35" y2="262.79" stroke="#000" stroke-width="1.4" stroke-dasharray="3.9 2.9"/>
<line x1="465.65" y1="263.49" x2="465.65" y2="281.35" stroke="#000" stroke-width="1.4" stroke-dasharray="3.3 1.9"/>
<line x1="512.4" y1="280.65" x2="464.95" y2="280.65" stroke="#000" stroke-width="1.4" stroke-dasharray="3.6 3.2"/>
<line x1="514.5" y1="280.95" x2="514.5" y2="278.55" stroke="#000" stroke-width="1.2"/>
<rect x="487.5" y="274.6" width="1.6" height="1.6" fill="#000"/>
<rect x="490.2" y="274.6" width="1.6" height="1.6" fill="#000"/>
</svg>
</body></html>
